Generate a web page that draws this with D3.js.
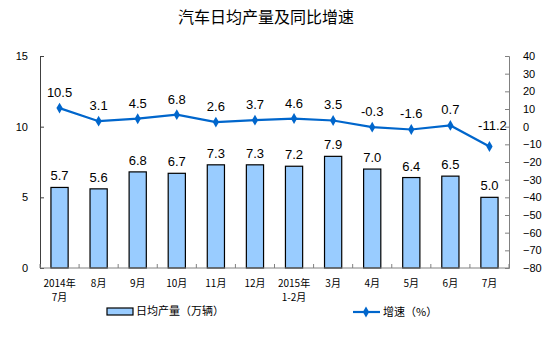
<!DOCTYPE html>
<html>
<head>
<meta charset="utf-8">
<script src="https://cdn.jsdelivr.net/npm/d3@7"></script>
<style>
  html, body { margin: 0; padding: 0; background: #fff; }
  svg { display: block; }
</style>
</head>
<body>
<svg id="chart" width="554" height="345"></svg>
<script>
// Monthly labels (two lines each)
const categories = [
  ["2014年", "7月"], ["8月"], ["9月"], ["10月"], ["11月"], ["12月"],
  ["2015年", "1-2月"], ["3月"], ["4月"], ["5月"], ["6月"], ["7月"]
];
// Average daily output (10k vehicles)
const dailyOutput = [5.7, 5.6, 6.8, 6.7, 7.3, 7.3, 7.2, 7.9, 7.0, 6.4, 6.5, 5.0];
// Year-on-year growth (%)
const growth = [10.5, 3.1, 4.5, 6.8, 2.6, 3.7, 4.6, 3.5, -0.3, -1.6, 0.7, -11.2];
const leftTicks = [0, 5, 10, 15];
const rightTicks = [40, 30, 20, 10, 0, -10, -20, -30, -40, -50, -60, -70, -80];

const svg = d3.select("#chart");
const plotL = 40, plotR = 509, plotT = 56, plotB = 268;
const numFont = "Arial, 'Liberation Sans', sans-serif";
const cjkFont = "SimSun, 'Noto Sans CJK SC', sans-serif";

const x = d3.scaleBand().domain(d3.range(categories.length)).range([plotL, plotR]).paddingInner(0.56).paddingOuter(0.28);
const xb = d3.scaleBand().domain(d3.range(categories.length)).range([plotL, plotR]);
const yL = d3.scaleLinear().domain([0, 15]).range([plotB, plotT]);
const yR = d3.scaleLinear().domain([-80, 40]).range([plotB, plotT]);

// Title
svg.append("text").attr("x", 266).attr("y", 23).attr("text-anchor", "middle")
  .attr("font-family", cjkFont).attr("font-size", 16).attr("fill", "#000")
  .text("汽车日均产量及同比增速");

// Bars
svg.append("g").selectAll("rect").data(dailyOutput).join("rect")
  .attr("x", (d, i) => x(i)).attr("width", x.bandwidth())
  .attr("y", d => yL(d)).attr("height", d => yL(0) - yL(d))
  .attr("fill", "#99CCFF").attr("stroke", "#000").attr("stroke-width", 1.2);

svg.append("g").selectAll("text").data(dailyOutput).join("text")
  .attr("x", (d, i) => x(i) + x.bandwidth() / 2).attr("y", d => yL(d) - 7)
  .attr("text-anchor", "middle").attr("font-family", numFont).attr("font-size", 13)
  .attr("fill", "#000").text(d => d.toFixed(1));

// Left axis
const axL = d3.axisLeft(yL).tickValues(leftTicks).tickSize(-4).tickPadding(12);
const gL = svg.append("g").attr("transform", `translate(${plotL},0)`).call(axL);
gL.select(".domain").attr("stroke", "#404040");
gL.selectAll(".tick line").attr("stroke", "#404040");
gL.selectAll("text").attr("font-family", numFont).attr("font-size", 11).attr("fill", "#000");

// Right axis
const axR = d3.axisRight(yR).tickValues(rightTicks).tickSize(-4).tickPadding(14);
const gR = svg.append("g").attr("transform", `translate(${plotR},0)`).call(axR);
gR.select(".domain").attr("stroke", "#808080");
gR.selectAll(".tick line").attr("stroke", "#808080");
gR.selectAll("text").attr("font-family", numFont).attr("font-size", 11).attr("fill", "#000");

// Bottom axis (category boundaries)
const gB = svg.append("g");
gB.append("line").attr("x1", plotL).attr("x2", plotR).attr("y1", plotB).attr("y2", plotB)
  .attr("stroke", "#808080");
gB.selectAll("line.tk").data(d3.range(categories.length + 1)).join("line").attr("class", "tk")
  .attr("x1", i => plotL + i * xb.step()).attr("x2", i => plotL + i * xb.step())
  .attr("y1", plotB).attr("y2", plotB - 4).attr("stroke", "#808080");
const catText = gB.selectAll("text.cat").data(categories).join("text").attr("class", "cat")
  .attr("x", (d, i) => xb(i) + xb.bandwidth() / 2).attr("y", 287)
  .attr("text-anchor", "middle").attr("font-family", cjkFont).attr("font-size", 10).attr("fill", "#000");
catText.each(function(d, i) {
  const t = d3.select(this);
  d.forEach((s, k) => t.append("tspan").attr("x", xb(i) + xb.bandwidth() / 2).attr("dy", k ? 14 : 0).text(s));
});

// Growth line
const lineColor = "#0066CC";
const line = d3.line().x((d, i) => xb(i) + xb.bandwidth() / 2).y(d => yR(d));
svg.append("path").datum(growth).attr("d", line).attr("fill", "none")
  .attr("stroke", lineColor).attr("stroke-width", 2.2);
const diamond = d3.symbol().type(d3.symbolDiamond).size(34);
svg.append("g").selectAll("path").data(growth).join("path")
  .attr("d", diamond).attr("fill", lineColor)
  .attr("transform", (d, i) => `translate(${xb(i) + xb.bandwidth() / 2},${yR(d)})`);
svg.append("g").selectAll("text").data(growth).join("text")
  .attr("x", (d, i) => xb(i) + xb.bandwidth() / 2 + (i === growth.length - 1 ? 3 : 0))
  .attr("y", (d, i) => yR(d) - (i === growth.length - 1 ? 16 : 11))
  .attr("text-anchor", "middle").attr("font-family", numFont).attr("font-size", 13)
  .attr("fill", "#000").text(d => d.toFixed(1));

// Legend
const lg = svg.append("g");
lg.append("rect").attr("x", 107).attr("y", 308).attr("width", 26).attr("height", 7)
  .attr("fill", "#99CCFF").attr("stroke", "#000").attr("stroke-width", 1.2);
lg.append("text").attr("x", 136).attr("y", 315).attr("font-family", cjkFont).attr("font-size", 11)
  .attr("fill", "#000").text("日均产量（万辆）");
lg.append("line").attr("x1", 353).attr("x2", 380).attr("y1", 312).attr("y2", 312)
  .attr("stroke", lineColor).attr("stroke-width", 2.2);
lg.append("path").attr("d", diamond).attr("fill", lineColor).attr("transform", "translate(366,312)");
lg.append("text").attr("x", 383).attr("y", 316).attr("font-family", cjkFont).attr("font-size", 11)
  .attr("fill", "#000").text("增速（%）");
</script>
</body>
</html>
